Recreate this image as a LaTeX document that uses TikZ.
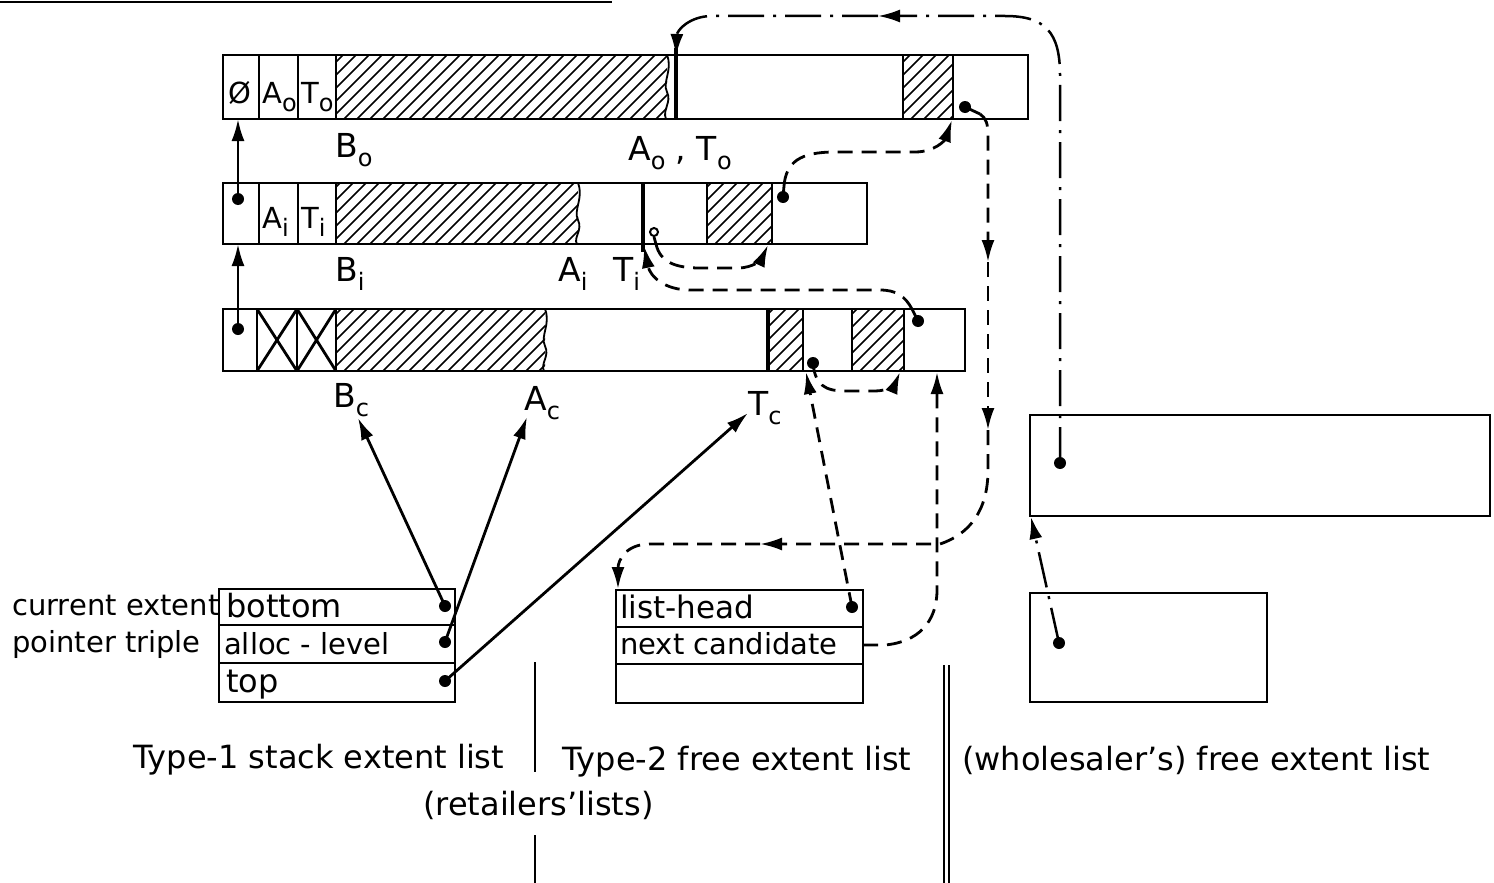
\documentclass[tikz,border=0pt]{standalone}
\usepackage{fontspec}
\setmainfont{DejaVu Sans}
\usetikzlibrary{arrows.meta}
\newcommand\lsb[1]{\raisebox{-0.30em}{\fontsize{24}{24}\selectfont #1}}
\newcommand\hatchbox[4]{%
  \begin{scope}
    \clip (#1,#2) rectangle (#3,#4);
    \pgfmathsetmacro\hh{#4-#2}
    \foreach \k in {0,...,36} {
      \pgfmathsetmacro\xx{#1-70+13*\k}
      \draw[line width=1.6pt] (\xx,#4) -- ++(\hh,-\hh);
    }
  \end{scope}}
\begin{document}
\begin{tikzpicture}[x=1pt,y=-1pt,
  font=\fontsize{29}{32}\selectfont,
  ln/.style={line width=2.8pt},
  thk/.style={line width=4.8pt},
  tip/.style={-{Latex[length=22pt,width=13pt]}},
  dsh/.style={line width=2.8pt, dash pattern=on 15pt off 9pt},
  dd/.style={line width=2.5pt, dash pattern=on 36pt off 9pt on 3pt off 9pt},
  dotn/.style={circle, fill, inner sep=0pt, minimum size=12pt},
  odot/.style={circle, draw, line width=2pt, inner sep=0pt, minimum size=8pt},
  lbl/.style={inner sep=0pt, anchor=base west},
  bigl/.style={lbl, font=\fontsize{33}{36}\selectfont},
  capt/.style={lbl, font=\fontsize{32}{36}\selectfont}]
\useasboundingbox (0,0) rectangle (1494,883);

% top rule
\draw[ln] (0,2) -- (612,2);

% ---------- row 0 ----------
\hatchbox{336}{55}{667}{119}
\hatchbox{903}{55}{953}{119}
\draw[ln] (223,55) rectangle (1028,119);
\draw[ln] (259,55)--(259,119) (298,55)--(298,119) (336,55)--(336,119)
          (903,55)--(903,119) (953,55)--(953,119);
\draw[line width=1.8pt] (667,55) .. controls (673,70) and (662,82) .. (667,92)
      .. controls (672,102) and (662,110) .. (666,119);
\draw[thk] (676,48) -- (676,119);
\node[lbl] (phi) at (228,103) {Ø};
\node[lbl] (ao) at (262,103) {A\lsb{o}};
\node[lbl] (to) at (301,103) {T\lsb{o}};
\node[bigl] (Bo) at (335,157) {B\lsb{o}};
\node[bigl] (AoTo) at (628,160) {A\lsb{o} , T\lsb{o}};

% ---------- row i ----------
\hatchbox{336}{183}{578}{244}
\hatchbox{707}{183}{772}{244}
\draw[ln] (223,183) rectangle (867,244);
\draw[ln] (259,183)--(259,244) (298,183)--(298,244) (336,183)--(336,244)
          (707,183)--(707,244) (772,183)--(772,244);
\draw[line width=1.8pt] (578,183) .. controls (584,198) and (573,210) .. (578,220)
      .. controls (583,230) and (573,238) .. (577,244);
\draw[thk] (643,183) -- (643,252);
\node[lbl] (ai) at (262,228) {A\lsb{i}};
\node[lbl] (ti) at (301,228) {T\lsb{i}};
\node[bigl] (Bi) at (335,281) {B\lsb{i}};
\node[bigl] (Ai) at (558,281) {A\lsb{i}};
\node[bigl] (Ti) at (613,281) {T\lsb{i}};

% ---------- row c ----------
\hatchbox{336}{309}{545}{371}
\hatchbox{768}{309}{803}{371}
\hatchbox{852}{309}{904}{371}
\draw[ln] (223,309) rectangle (965,371);
\draw[ln] (257,309)--(257,371) (297,309)--(297,371) (336,309)--(336,371)
          (803,309)--(803,371) (852,309)--(852,371) (904,309)--(904,371);
\draw[ln] (257,309)--(297,371) (257,371)--(297,309)
          (297,309)--(336,371) (297,371)--(336,309);
\draw[line width=1.8pt] (545,309) .. controls (551,324) and (540,336) .. (545,346)
      .. controls (550,356) and (540,364) .. (544,371);
\draw[thk] (768,309) -- (768,371);
\node[bigl] (Bc) at (333,407) {B\lsb{c}};
\node[bigl] (Ac) at (524,410) {A\lsb{c}};
\node[bigl] (Tc) at (748,415) {T\lsb{c}};

% ---------- pointer triple ----------
\draw[ln] (219,589) rectangle (455,702);
\draw[ln] (219,625)--(455,625) (219,663)--(455,663);
\node[lbl] (cur) at (12,615) {current extent};
\node[lbl] (ptr) at (12,652) {pointer triple};
\node[lbl, font=\fontsize{32}{34}\selectfont] (bot) at (226,617) {bottom};
\node[lbl] (alv) at (224,654) {alloc - level};
\node[lbl, font=\fontsize{32}{34}\selectfont] (top) at (226,692) {top};

% ---------- type-2 list ----------
\draw[ln] (616,590) rectangle (863,703);
\draw[ln] (616,627)--(863,627) (616,664)--(863,664);
\node[lbl, font=\fontsize{31}{34}\selectfont] (lhd) at (620,618) {list-head};
\node[lbl] (nxc) at (620,654) {next candidate};

% ---------- wholesaler boxes ----------
\draw[ln] (1030,415) rectangle (1490,516);
\draw[ln] (1030,593) rectangle (1267,702);

% ---------- separators ----------
\draw[line width=2.2pt] (535,662)--(535,772) (535,835)--(535,883);
\draw[line width=2.2pt] (944,665)--(944,883) (949,665)--(949,883);

% ---------- captions ----------
\node[capt] (t1) at (133,768) {Type-1 stack extent list};
\node[capt] (rl) at (423,815) {(retailers'lists)};
\node[capt] (t2) at (562,770) {Type-2 free extent list};
\node[capt] (wl) at (962,770) {(wholesaler's) free extent list};

% ---------- dots ----------
\node[dotn] (dI) at (238,199) {};
\node[dotn] (dC) at (238,329) {};
\node[dotn] (d0) at (965,107) {};
\node[dotn] (dIr) at (783,197) {};
\node[odot] (oI) at (654,232) {};
\node[dotn] (dCa) at (813,363) {};
\node[dotn] (dCb) at (918,321) {};
\node[dotn] (pb) at (445,606) {};
\node[dotn] (pa) at (445,642) {};
\node[dotn] (pt) at (445,681) {};
\node[dotn] (lh) at (852,607) {};
\node[dotn] (w1) at (1060,463) {};
\node[dotn] (w2) at (1059,643) {};

% ---------- target coordinates ----------
\coordinate (r0L) at (238,119);
\coordinate (riL) at (238,244);
\coordinate (BcT) at (358,418);
\coordinate (AcT) at (527,417);
\coordinate (TcT) at (748,413);
\coordinate (r0T) at (676,56);
\coordinate (r0H) at (952,120);
\coordinate (riH) at (768,245);
\coordinate (riT) at (644,246);
\coordinate (rcH) at (900,372);
\coordinate (rcA) at (806,372);
\coordinate (rcB) at (937,372);
\coordinate (t2top) at (618,589);
\coordinate (nxR) at (863,645);
\coordinate (wbig) at (1031,517);

% ---------- solid arrows ----------
\draw[ln,tip] (dI.center) -- (r0L);
\draw[ln,tip] (dC.center) -- (riL);
\draw[ln,tip] (pb.center) -- (BcT);
\draw[ln,tip] (pa.center) -- (AcT);
\draw[ln,tip] (pt.center) -- (TcT);

% ---------- dash-dot ----------
\coordinate (dda) at (878,16);
\draw[dd,tip] (w1.center) -- (1060,75) .. controls (1060,32) and (1045,16) .. (1005,16) -- (dda);
\draw[dd,tip] (dda) -- (712,16) .. controls (690,16) and (677,30) .. (r0T);
\draw[dd,tip] (w2.center) -- (wbig);

% ---------- dashed ----------
% row i -> row 0 hatch
\draw[ln] (dIr.center) -- (784,186);
\draw[dsh,tip] (784,186) .. controls (786,162) and (800,152) .. (835,152) -- (915,152)
   .. controls (935,152) and (945,140) .. (r0H);
% row 0 -> down -> type-2 list head
\coordinate (m1) at (988,262);
\coordinate (m2) at (988,430);
\coordinate (m3) at (760,544);
\draw[ln] (d0.center) -- (980,114);
\draw[dsh,tip] (980,114) .. controls (986,118) and (988,124) .. (988,135) -- (m1);
\draw[dsh,tip] (m1) -- (m2);
\draw[dsh,tip] (m2) -- (988,470) .. controls (988,510) and (970,534) .. (940,544) -- (m3);
\draw[dsh,tip] (m3) -- (650,544) .. controls (626,544) and (618,560) .. (t2top);
% next candidate -> row c
\draw[dsh,tip] (nxR) -- (885,645) .. controls (918,642) and (937,622) .. (937,590) -- (rcB);
% list-head -> row c
\draw[dsh,tip] (lh.center) -- (rcA);
% row c dot -> row c hatch
\draw[dsh,tip] (dCa.center) .. controls (815,385) and (825,391) .. (845,391) -- (875,391)
   .. controls (888,391) and (895,384) .. (rcH);
% row i open dot -> row i hatch
\draw[ln] (oI.south) -- (656,244);
\draw[dsh,tip] (656,244) .. controls (660,262) and (675,268) .. (700,268) -- (738,268)
   .. controls (754,268) and (762,258) .. (riH);
% row c dot -> T_i
\draw[ln] (dCb.center) -- (912,309);
\draw[dsh,tip] (912,309) .. controls (905,296) and (896,290) .. (880,290) -- (690,290)
   .. controls (664,290) and (650,276) .. (riT);
\end{tikzpicture}
\end{document}
